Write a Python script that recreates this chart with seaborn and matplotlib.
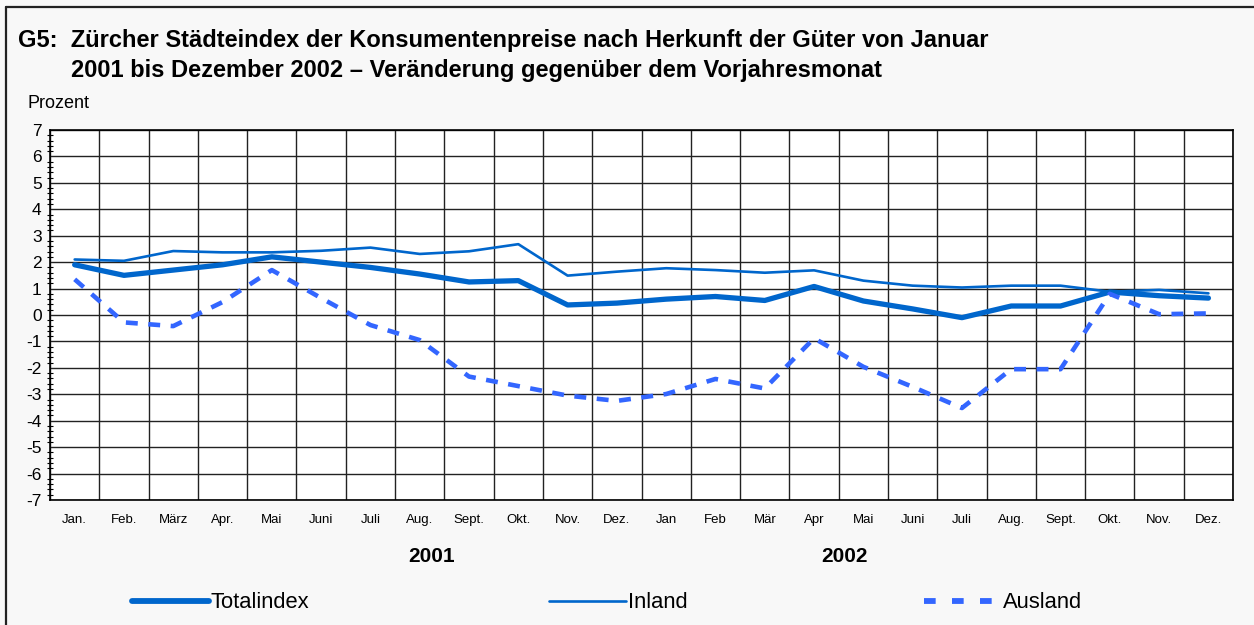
import numpy as np
import pandas as pd
import matplotlib
matplotlib.use("Agg")
import matplotlib.pyplot as plt
import seaborn as sns
from matplotlib.lines import Line2D

months = ["Jan.", "Feb.", "März", "Apr.", "Mai", "Juni", "Juli", "Aug.", "Sept.", "Okt.", "Nov.", "Dez.",
          "Jan", "Feb", "Mär", "Apr", "Mai", "Juni", "Juli", "Aug.", "Sept.", "Okt.", "Nov.", "Dez."]
years = ["2001", "2002"]
totalindex = [1.9, 1.5, 1.7, 1.9, 2.2, 2.0, 1.8, 1.55, 1.25, 1.3, 0.38, 0.45,
              0.6, 0.7, 0.55, 1.08, 0.53, 0.23, -0.1, 0.34, 0.34, 0.87, 0.73, 0.64]
inland = [2.1, 2.05, 2.42, 2.37, 2.37, 2.43, 2.55, 2.31, 2.41, 2.68, 1.49, 1.64,
          1.77, 1.7, 1.6, 1.69, 1.3, 1.11, 1.04, 1.11, 1.11, 0.88, 0.95, 0.82]
ausland = [1.35, -0.28, -0.42, 0.49, 1.7, 0.64, -0.38, -0.95, -2.33, -2.69, -3.05, -3.25,
           -2.99, -2.42, -2.78, -0.88, -1.96, -2.72, -3.52, -2.05, -2.05, 0.8, 0.03, 0.06]

sns.set_style("white")
plt.rcParams['font.family'] = ['Liberation Sans', 'DejaVu Sans']
plt.rcParams['text.color'] = 'black'
plt.rcParams['xtick.color'] = 'black'
plt.rcParams['ytick.color'] = 'black'
plt.rcParams['xtick.labelcolor'] = 'black'
plt.rcParams['ytick.labelcolor'] = 'black'

df = pd.DataFrame({"pos": np.arange(len(months)), "Totalindex": totalindex,
                   "Inland": inland, "Ausland": ausland})

fig = plt.figure(figsize=(12.54, 6.25), dpi=100)
fig.patch.set_facecolor("#f8f8f8")
# frame: only left and top edges visible
fig.add_artist(Line2D([6 / 1254, 6 / 1254], [0, 1 - 6.5 / 625], transform=fig.transFigure,
                      color="#222222", lw=1.6))
fig.add_artist(Line2D([6 / 1254, 1], [1 - 6.5 / 625, 1 - 6.5 / 625], transform=fig.transFigure,
                      color="#222222", lw=1.6))
ax = fig.add_axes([0.0399, 0.2, 0.9434, 0.592])
ax.set_facecolor("white")

c_main = "#0066cc"
c_aus = "#3366ff"
sns.lineplot(data=df, x="pos", y="Inland", ax=ax, color=c_main, lw=1.9, zorder=3)
sns.lineplot(data=df, x="pos", y="Totalindex", ax=ax, color=c_main, lw=3.8, zorder=4)
sns.lineplot(data=df, x="pos", y="Ausland", ax=ax, color=c_aus, lw=3.3, zorder=5)
ax.lines[-1].set_dashes((2.6, 2.3))

ax.set_xlim(-0.5, len(months) - 0.5)
ax.set_ylim(-7, 7)
ax.set_yticks(np.arange(-7, 8, 1))
ax.set_yticklabels([str(v) for v in range(-7, 8)], fontsize=12.5)
ax.set_yticks(np.arange(-7, 7.01, 0.2), minor=True)
ax.tick_params(axis="y", which="major", direction="inout", length=8, width=1, pad=2)
ax.tick_params(axis="y", which="minor", direction="inout", length=5, width=0.8, left=True)
ax.set_xticks(np.arange(-0.5, len(months), 1), minor=True)
ax.set_xticks(np.arange(len(months)))
ax.set_xticklabels(months, fontsize=9.5, family=['Liberation Sans Narrow', 'Liberation Sans', 'DejaVu Sans'])
ax.tick_params(axis="x", which="both", length=0, pad=10)
ax.grid(True, axis="y", which="major", color="#222222", lw=1)
ax.grid(True, axis="x", which="minor", color="#222222", lw=1)
ax.grid(False, axis="x", which="major")
ax.set_axisbelow(True)
for s in ax.spines.values():
    s.set_color("black")
    s.set_linewidth(1.2)
ax.set_xlabel("")
ax.set_ylabel("")

fig.text(0.0144, 0.935, "G5:  Zürcher Städteindex der Konsumentenpreise nach Herkunft der Güter von Januar",
         fontsize=17, fontweight="bold", va="center", ha="left", color="black")
fig.text(0.0566, 0.887, "2001 bis Dezember 2002 – Veränderung gegenüber dem Vorjahresmonat",
         fontsize=17, fontweight="bold", va="center", ha="left", color="black")
fig.text(0.0223, 0.834, "Prozent", fontsize=13, va="center", ha="left", color="black")

for yr, xpix in zip(years, [432, 844]):
    fig.text(xpix / 1254, 1 - 557 / 625, yr, fontsize=15, fontweight="bold", ha="center", va="center",
             color="black")

entries = [("Totalindex", dict(color=c_main, lw=4.2), 133),
           ("Inland", dict(color=c_main, lw=1.9), 550),
           ("Ausland", dict(color=c_aus, lw=4.2, dashes=(2.0, 2.8)), 925)]
for label, kw, xpix in entries:
    h = Line2D([], [], **kw)
    leg = fig.legend([h], [label], loc="center left", bbox_to_anchor=(xpix / 1254 - 0.001, 1 - 603 / 625),
                     frameon=False, fontsize=15.8, handlelength=3.5, handletextpad=0.1,
                     borderpad=0, borderaxespad=0, labelcolor="black")

fig.savefig("out.png", dpi=100, facecolor=fig.get_facecolor())
